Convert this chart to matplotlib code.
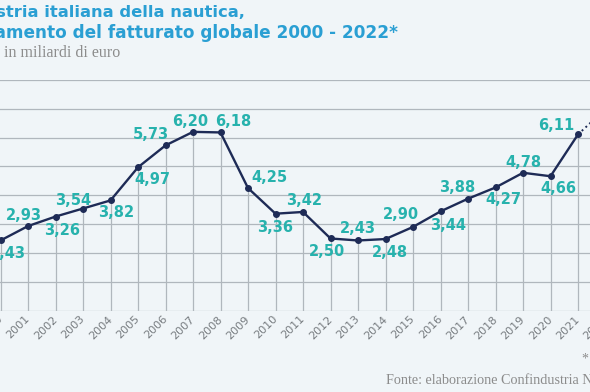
"""
Fatturato globale dell'industria nautica italiana, 2000-2022 (crop view).
"""

import matplotlib
matplotlib.use("Agg")

import matplotlib.pyplot as plt

YEARS = list(range(2000, 2022))
TURNOVER = [2.43, 2.93, 3.26, 3.54, 3.82, 4.97, 5.73, 6.20, 6.18, 4.25, 3.36,
            3.42, 2.50, 2.43, 2.48, 2.90, 3.44, 3.88, 4.27, 4.78, 4.66, 6.11]
EST_YEAR = 2022
EST_VALUE = 7.0
TICK_YEARS = YEARS + [EST_YEAR]
Y_GRID = list(range(0, 9))

TITLE_1 = "Industria italiana della nautica,"
TITLE_2 = "andamento del fatturato globale 2000 - 2022*"
SUBTITLE = "in miliardi di euro"
NOTE = "* Stima"
SOURCE = "Fonte: elaborazione Confindustria Nautica"

# hand placed label nudges (pixels, dx, dy up) for each value label
LABEL_NUDGE = [(7, -13), (-4, 11), (7, -13), (-10, 9), (6, -12), (14, -12),
               (-15, 11), (-3, 11), (13, 11), (21, 11), (0, -13), (1, 12),
               (-4, -13), (0, 12), (4, -13), (-12, 13), (8, -14), (-11, 12),
               (8, -12), (0, 11), (8, -12), (-22, 9)]

W, H = 590, 392
BG = "#f0f5f8"
NAVY = "#1e2b56"
TEAL = "#27b2ad"
GRID = "#b0b7bd"
TITLE_BLUE = "#2a9fd3"
GREY = "#8c8c8c"


def px_x(x):
    return x / W


def px_y(y):
    return 1 - y / H


def main():
    fig = plt.figure(figsize=(W / 100, H / 100), dpi=100, facecolor=BG)

    # the chart is wider than the visible window, like the cropped original
    x0, x1 = 1999.3, 2022.7
    left_px = 0.5 + 27.5 * (x0 - 2000)
    right_px = 0.5 + 27.5 * (x1 - 2000)
    ax = fig.add_axes([px_x(left_px), px_y(310.5), (right_px - left_px) / W, (310.5 - 80) / H])
    ax.set_facecolor(BG)
    ax.set_xlim(x0, x1)
    ax.set_ylim(0, 8)

    for v in Y_GRID:
        ax.axhline(v, color=GRID, lw=0.9, zorder=1)
    ax.vlines(YEARS, 0, TURNOVER, color=GRID, lw=0.9, zorder=1)

    ax.plot([YEARS[-1], EST_YEAR], [TURNOVER[-1], EST_VALUE], color=NAVY, lw=1.4, ls=":", zorder=2)
    ax.plot(YEARS, TURNOVER, color=NAVY, lw=1.7, marker="o", ms=4, zorder=3)

    for yr, val, (dx, dy) in zip(YEARS, TURNOVER, LABEL_NUDGE):
        ax.annotate(f"{val:.2f}".replace(".", ","), (yr, val), xytext=(dx, dy - 5),
                    textcoords="offset pixels", ha="center", va="baseline",
                    fontsize=10.5, fontweight="bold", color=TEAL, zorder=4)

    for s in ax.spines.values():
        s.set_visible(False)
    ax.set_yticks([])
    ax.set_xticks(TICK_YEARS)
    ax.set_xticklabels([str(y) for y in TICK_YEARS], rotation=45, ha="right", va="center",
                       rotation_mode="anchor", fontsize=8, color="#777c80")
    ax.tick_params(axis="x", length=0, pad=5)

    fig.text(px_x(245), px_y(17), TITLE_1, ha="right", va="baseline",
             fontsize=11.8, fontweight="bold", color=TITLE_BLUE)
    fig.text(px_x(398), px_y(38), TITLE_2, ha="right", va="baseline",
             fontsize=12.2, fontweight="bold", color=TITLE_BLUE)
    fig.text(px_x(4), px_y(57), SUBTITLE, ha="left", va="baseline",
             fontsize=11.5, family="Liberation Serif", color=GREY)
    fig.text(px_x(582), px_y(363), NOTE, ha="left", va="baseline",
             fontsize=10, family="Liberation Serif", color=GREY)
    fig.text(px_x(386), px_y(384), SOURCE, ha="left", va="baseline",
             fontsize=10.2, family="Liberation Serif", color=GREY)

    fig.savefig("out.png", dpi=100, facecolor=BG)


if __name__ == "__main__":
    main()
